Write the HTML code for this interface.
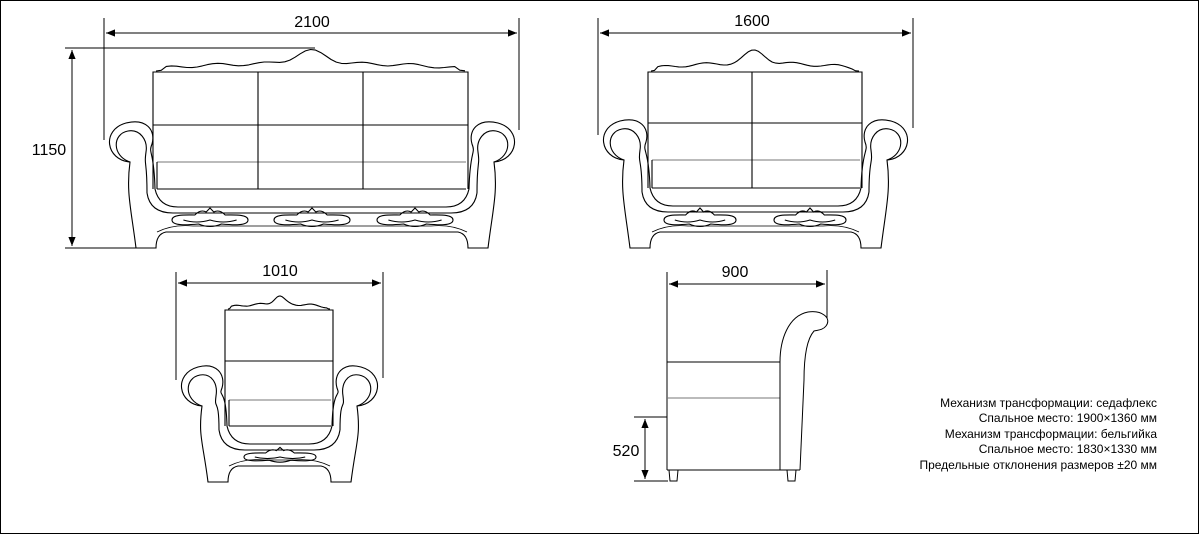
<!DOCTYPE html>
<html><head><meta charset="utf-8"><style>
html,body{margin:0;padding:0;background:#fff}
svg{display:block}
text{font-family:"Liberation Sans",Arial,sans-serif;fill:#000}
</style></head><body>
<svg id="s" width="1200" height="535" viewBox="0 0 1200 535" xmlns="http://www.w3.org/2000/svg">
<defs>
<marker id="a" viewBox="0 0 10 10" refX="10" refY="5" markerWidth="9" markerHeight="9" markerUnits="userSpaceOnUse" orient="auto-start-reverse"><path d="M0,1 L10,5 L0,9 z" fill="#000"/></marker>
</defs>
<rect x="0.5" y="0.5" width="1198" height="533" fill="none" stroke="#000" stroke-width="1"/>
<g stroke="#000" stroke-width="1" fill="none">
<line x1="104" y1="18" x2="104" y2="140"/><line x1="519" y1="18" x2="519" y2="130"/>
<line x1="106" y1="33" x2="517" y2="33" marker-start="url(#a)" marker-end="url(#a)"/>
<line x1="65" y1="48" x2="315" y2="48"/><line x1="65" y1="248" x2="140" y2="248"/>
<line x1="72" y1="50" x2="72" y2="246" marker-start="url(#a)" marker-end="url(#a)"/>
<line x1="598" y1="18" x2="598" y2="135"/><line x1="913" y1="18" x2="913" y2="128"/>
<line x1="600" y1="33" x2="911" y2="33" marker-start="url(#a)" marker-end="url(#a)"/>
<line x1="176" y1="272" x2="176" y2="380"/><line x1="383" y1="272" x2="383" y2="378"/>
<line x1="178" y1="283" x2="381" y2="283" marker-start="url(#a)" marker-end="url(#a)"/>
<line x1="667" y1="272" x2="667" y2="362"/><line x1="827" y1="270" x2="827" y2="318"/>
<line x1="669" y1="284" x2="825" y2="284" marker-start="url(#a)" marker-end="url(#a)"/>
<line x1="634" y1="417" x2="667" y2="417"/><line x1="634" y1="481" x2="668" y2="481"/>
<line x1="645" y1="419" x2="645" y2="479" marker-start="url(#a)" marker-end="url(#a)"/>
</g>
<g font-size="16" text-anchor="middle">
<text x="312" y="27">2100</text>
<text x="49" y="155">1150</text>
<text x="752" y="26">1600</text>
<text x="280" y="276">1010</text>
<text x="735" y="277">900</text>
<text x="626" y="456">520</text>
</g>
<g stroke="#000" stroke-width="1" fill="none">
<line x1="667" y1="362" x2="667" y2="470"/>
<line x1="667" y1="362" x2="780" y2="362"/>
<line x1="667" y1="398" x2="780" y2="398" stroke="#777"/>
<line x1="667" y1="470" x2="800" y2="470"/>
<path d="M780,470 L780,362 C780,340 788,316 808,312 C822,310 832,318 826,326 C823,330 818,330 814,331 C806,340 804,360 804,380 L800,470"/>
<path d="M669,470 L670,481 L677,481 L678,470 M787,470 L788,481 L795,481 L796,470"/>
</g>
<g font-size="12" text-anchor="end">
<text x="1157" y="407">Механизм трансформации: седафлекс</text>
<text x="1157" y="422">Спальное место: 1900×1360 мм</text>
<text x="1157" y="438">Механизм трансформации: бельгийка</text>
<text x="1157" y="453">Спальное место: 1830×1330 мм</text>
<text x="1157" y="469">Предельные отклонения размеров ±20 мм</text>
</g>
<g id="furn" stroke="#000" stroke-width="1.1" fill="none"></g>
</svg>
<script>
function sofa(o){
 var L=o.L,R=o.R,ST=o.ST,B=o.B,bl=o.bl,br=o.br,bt=o.bt,cb=o.cb,s='';
 var tb=cb+18, sw=o.sw||50;
 function mx(x){return L+R-x;}
 function P(x,y){return x.toFixed(1)+','+y.toFixed(1);}
 var d='M'+P(L+32,B)+' C'+P(L+27,B-40)+' '+P(L+22,ST+70)+' '+P(L+26,ST+40)
  +' C'+P(L+2,ST+38)+' '+P(L-3,ST+8)+' '+P(L+22,ST+1)
  +' C'+P(L+sw-8,ST-4)+' '+P(L+sw+2,ST+8)+' '+P(L+sw-2,ST+22)
  +' C'+P(L+sw-6,ST+32)+' '+P(bl+1,cb-40)+' '+P(bl+2,cb)
  +' Q'+P(bl+6,tb)+' '+P(bl+25,tb)
  +' L'+P(mx(bl+25),tb)
  +' Q'+P(mx(bl+6),tb)+' '+P(mx(bl+2),cb)
  +' C'+P(mx(bl+1),cb-40)+' '+P(mx(L+sw-6),ST+32)+' '+P(mx(L+sw-2),ST+22)
  +' C'+P(mx(L+sw+2),ST+8)+' '+P(mx(L+sw-8),ST-4)+' '+P(mx(L+22),ST+1)
  +' C'+P(mx(L-3),ST+8)+' '+P(mx(L+2),ST+38)+' '+P(mx(L+26),ST+40)
  +' C'+P(mx(L+22),ST+70)+' '+P(mx(L+27),B-40)+' '+P(mx(L+32),B)
  +' L'+P(mx(L+52),B)+' Q'+P(mx(L+52),B-14)+' '+P(mx(L+62),B-16)+' L'+P(L+62,B-16)+' Q'+P(L+52,B-14)+' '+P(L+52,B)+' Z';
 s+='<path d="'+d+'"/>';
 [0,1].forEach(function(k){
  var f=k?mx:function(x){return x;};
  s+='<path d="M'+P(f(L+26),ST+40)+' C'+P(f(L+8),ST+34)+' '+P(f(L+8),ST+12)+' '+P(f(L+24),ST+9)
   +' C'+P(f(L+36),ST+7)+' '+P(f(L+sw-6),ST+18)+' '+P(f(L+sw-8),ST+30)
   +' C'+P(f(L+sw-10),ST+45)+' '+P(f(bl-6),cb-30)+' '+P(f(bl-6),cb+4)+'"/>';
 });
 s+='<path d="M'+P(bl-6,cb+4)+' Q'+P(bl-3,cb+24)+' '+P(bl+20,cb+24)+' L'+P(mx(bl+20),cb+24)+' Q'+P(mx(bl-3),cb+24)+' '+P(mx(bl-6),cb+4)+'"/>';
 s+='<path d="M'+P(bl,cb)+' L'+P(bl,bt)+' L'+P(br,bt)+' L'+P(br,cb)+'"/>';
 s+='<line x1="'+bl+'" y1="'+o.dy+'" x2="'+br+'" y2="'+o.dy+'"/>';
 s+='<line x1="'+(bl+4)+'" y1="'+o.sy+'" x2="'+(br-2)+'" y2="'+o.sy+'" stroke="#777"/>';
 s+='<line x1="'+(bl+4)+'" y1="'+o.sy+'" x2="'+(bl+4)+'" y2="'+cb+'"/>';
 s+='<line x1="'+(bl+4)+'" y1="'+cb+'" x2="'+(br-2)+'" y2="'+cb+'"/>';
 o.dv.forEach(function(x){s+='<line x1="'+x+'" y1="'+bt+'" x2="'+x+'" y2="'+cb+'"/>';});
 var A=bt-o.ct, N=60, c='M'+P(bl+3,bt-1);
 for(var i=1;i<=N;i++){
  var t=i/N, x=bl+3+(br-bl-6)*t;
  var h=A*(0.38*Math.pow(Math.sin(Math.PI*t),0.4)+0.62*Math.exp(-Math.pow((t-0.5)/0.07,2))+0.08*Math.sin(t*o.wv))*(t<0.02||t>0.98?0.2:1);
  c+=' L'+P(x,bt-1-Math.max(0,h));
 }
 s+='<path d="'+c+'" stroke-linejoin="round"/>';
 s+='<path d="M'+P(bl+4,B-16)+' Q'+P(bl+20,B-24)+' '+P(bl+40,B-22)+' L'+P(mx(bl+40),B-22)+' Q'+P(mx(bl+20),B-24)+' '+P(mx(bl+4),B-16)+'" stroke-width="0.8"/>';
 var cs=o.cs||1;
 o.cv.forEach(function(x){
  var y=B-o.cy,rx=o.crx;
  s+='<path d="M'+P(x-rx,y)+' C'+P(x-rx,y-6*cs)+' '+P(x-rx*0.6,y-5*cs)+' '+P(x-rx*0.4,y-5*cs)
   +' Q'+P(x-rx*0.25,y-11*cs)+' '+P(x-rx*0.1,y-8*cs)+' L'+P(x,y-12*cs)+' L'+P(x+rx*0.1,y-8*cs)
   +' Q'+P(x+rx*0.25,y-11*cs)+' '+P(x+rx*0.4,y-5*cs)+' C'+P(x+rx*0.6,y-5*cs)+' '+P(x+rx,y-6*cs)+' '+P(x+rx,y)
   +' C'+P(x+rx,y+6*cs)+' '+P(x+rx*0.6,y+5*cs)+' '+P(x+rx*0.3,y+4*cs)
   +' Q'+P(x,y+9*cs)+' '+P(x-rx*0.3,y+4*cs)+' C'+P(x-rx*0.6,y+5*cs)+' '+P(x-rx,y+6*cs)+' '+P(x-rx,y)+'"/>';
  s+='<path d="M'+P(x-rx*0.7,y)+' Q'+P(x-rx*0.35,y+4*cs)+' '+P(x,y)+' Q'+P(x+rx*0.35,y+4*cs)+' '+P(x+rx*0.7,y)+'"/>';
 });
 return s;
}
var g=document.getElementById('furn');
g.innerHTML=
 sofa({L:104,R:520,ST:122,B:248,bl:153,br:468,bt:72,cb:189,dy:125,sy:162,dv:[258,363],ct:52,cv:[210,312,415],crx:38,cy:28,wv:40,sw:50})+
 sofa({L:598,R:913,ST:120,B:248,bl:648,br:862,bt:72,cb:188,dy:123,sy:160,dv:[752],ct:52,cv:[700,810],crx:36,cy:28,wv:30,sw:50})+
 sofa({L:176,R:383,ST:366,B:482,bl:225,br:333,bt:310,cb:426,dy:361,sy:400,dv:[],ct:297,cv:[280],crx:36,cy:25,cs:0.8,wv:25,sw:48});
</script>
</body></html>
